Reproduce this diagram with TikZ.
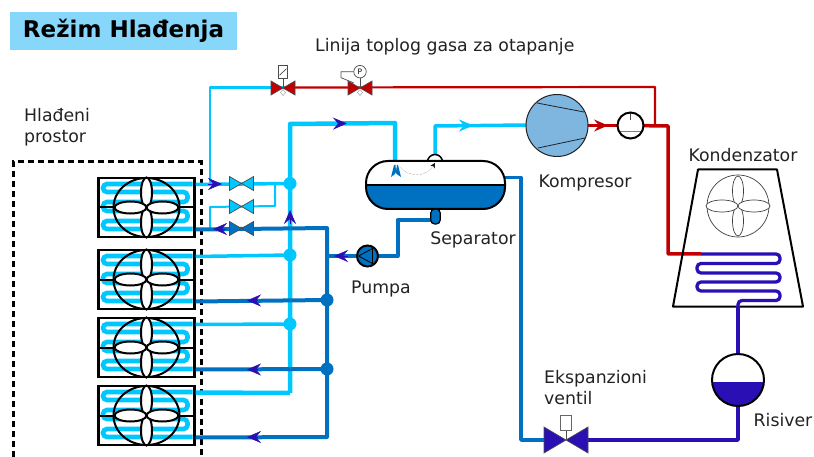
\documentclass[tikz,border=0pt]{standalone}
\usepackage{fontspec}
\setmainfont{DejaVu Sans}
\usetikzlibrary{arrows.meta,decorations.markings}
\definecolor{titlebg}{HTML}{87D7FB}
\definecolor{suct}{HTML}{00C8FF}
\definecolor{liq}{HTML}{0070C0}
\definecolor{cond}{HTML}{2A0FB5}
\definecolor{hot}{HTML}{C00000}
\definecolor{comp}{HTML}{7FB6E0}
\definecolor{ink}{HTML}{222222}
\tikzset{
  lab/.style = {font=\fontsize{17.3}{21}\selectfont,text=ink,inner sep=0pt,align=left},
  tiplab/.style = {fill=titlebg,font=\fontsize{23}{26}\selectfont\bfseries,inner sep=0pt,minimum width=227pt,minimum height=38pt},
  pipes/.style = {suct,line width=4.5pt,line join=round},
  pipem/.style = {suct,line width=3.5pt,line join=round},
  pipet/.style = {suct,line width=2pt,line join=round},
  pliq/.style = {liq,line width=4pt,line join=round},
  pcond/.style = {cond,line width=3.5pt,line join=round},
  phot/.style = {hot,line width=3.5pt,line join=round},
  tip/.style = {-{Stealth[length=14pt,width=12pt,inset=5pt]}},
  flow/.style 2 args = {postaction={decorate},decoration={markings,
    mark=at position #1 with {\arrow[#2]{Stealth[length=14pt,width=12pt,inset=5pt]}}}},
  junction/.style = {circle,inner sep=0pt,minimum size=#1},
  unit/.style = {draw,line width=2.2pt,fill=white,minimum width=96pt,minimum height=59pt,inner sep=0pt},
  valve/.style = {draw=black!70,line width=0.7pt},
  fanline/.style = {black,line width=2pt},
  act/.style = {black!70,line width=0.7pt}
}
% bow-tie valve: name, x, y, half width, half height, fill
\newcommand{\valve}[6]{
  \coordinate (#1) at (#2,#3);
  \filldraw[valve,fill=#6] (#1) ++(-#4,-#5) -- ++({2*#4},{2*#5}) -- ++(0,{-2*#5}) -- ++({-2*#4},{2*#5}) -- cycle;
}
% rotor: centre, outer radii
\newcommand{\rotor}[3]{
  \draw (#1) ellipse [x radius=#2,y radius=#3];
  \filldraw[fill=white] (#1) ++(0,-15) ellipse [x radius=5.5,y radius=15];
  \filldraw[fill=white] (#1) ++(0,15) ellipse [x radius=5.5,y radius=15];
  \filldraw[fill=white] (#1) ++(-16,0) ellipse [x radius=16,y radius=6];
  \filldraw[fill=white] (#1) ++(16,0) ellipse [x radius=16,y radius=6];
}

\begin{document}
\begin{tikzpicture}[x=1pt,y=-1pt]
\useasboundingbox (0,0) rectangle (814,457);

\node[tiplab] (title) at (123.5,31) {Režim Hlađenja};
\node[lab,anchor=west] (cold) at (24,127) {Hlađeni\\prostor};
\node[lab,anchor=west] (line) at (315,47) {Linija toplog gasa za otapanje};
\node[lab] (kond) at (743,155) {Kondenzator};
\node[lab] (komp) at (585,183) {Kompresor};
\node[lab] (sepl) at (473,240) {Separator};
\node[lab] (pum) at (381,289) {Pumpa};
\node[lab,anchor=west] (eksp) at (544,387.5) {Ekspanzioni\\ventil};
\node[lab] (ris) at (783,420) {Risiver};

% cold room
\draw[black,line width=3pt,dash pattern=on 6pt off 4pt] (13,457) -- (13,162) -- (201,162) -- (201,457);

% evaporators
\foreach \i/\yc in {1/207.5,2/279.5,3/347.5,4/415.5}{
  \node[unit] (e\i) at (146.5,\yc) {};
  \coordinate (o\i) at ([yshift=23pt]e\i.east);
  \coordinate (n\i) at ([yshift=-22pt]e\i.east);
  \begin{scope}[shift={(146.5,\yc)}]
    \draw[suct,line width=4.6pt,rounded corners=4pt] (46,-23.5) -- (-43.5,-23.5) -- (-43.5,-15.5) -- (41,-15.5) -- (41,-5.5)
      -- (-43.5,-5.5) -- (-43.5,3.5) -- (41,3.5) -- (41,13.5) -- (-43.5,13.5) -- (-43.5,21.5) -- (46,21.5);
    \draw[fanline] (e\i.west) -- (e\i.east);
    \coordinate (c\i) at (0,0);
    \begin{scope}[fanline]
      \rotor{c\i}{33}{29.5}
    \end{scope}
  \end{scope}
}

% hot gas
\coordinate (hs) at (283,87.5);
\coordinate (hc) at (655,87);
\draw[suct,line width=2.5pt,line join=round] (o1 -| 210,0) -- (210,87.5) -- (hs);
\draw[hot,line width=2.2pt,line join=round] (hs) -- (hc) -- (655,127);

% suction side
\coordinate (sj) at (290,183.5);
\draw[pipes,flow={326pt}{cond}] (290,393) -- (sj) -- (290,124) -- (395,123) -- (395,162);
\draw[pipes] (290,393) -- (o4);
\draw[pipem] (o1) -- (sj);
\draw[pipem] (o2) -- (290,255);
\draw[pipem] (o3) -- (290,324);
\draw[pipet] (n1 -| 210,0) -- (210,207) -- (275,206) -- (275,184);
\node[junction=13pt,fill=suct] (j1) at (sj) {};
\node[junction=13pt,fill=suct] (j2) at (290,255) {};
\node[junction=13pt,fill=suct] (j3) at (290,324) {};

% liquid side
\coordinate (lt) at (327,228);
\coordinate (lb) at (327,437);
\draw[pliq] (n1) -- (lt) -- (lb) -- (n4);
\draw[pliq] (n2) -- (327,300);
\draw[pliq] (n3) -- (327,369);
\node[junction=13pt,fill=liq] (j4) at (327,300) {};
\node[junction=13pt,fill=liq] (j5) at (327,369) {};
\draw[cond,tip] (258,300.5) -- (247,300.5);
\draw[cond,tip] (258,369.5) -- (247,369.5);
\draw[cond,tip] (258,437) -- (247,437);
\draw[cond,tip] (226,229) -- (213,229);
\draw[cond,tip] (290,224) -- (290,210);
\draw[cond,tip] (208,184) -- (222,184);

% valves
\valve{v1}{241.5}{183.5}{12}{7}{suct}
\valve{v2}{241.5}{206.5}{12}{7}{suct}
\valve{v3}{241.5}{228.5}{12}{7}{liq}
\valve{v4}{283}{88}{12}{7}{hot}
\valve{v5}{360}{88}{12}{7}{hot}
\foreach \v in {v4,v5}
  \filldraw[fill=white,draw=black!40,line width=0.4pt] (\v) ++(0,1.5) -- ++(2.5,3) -- ++(-2.5,3) -- ++(-2.5,-3) -- cycle;

% actuators
\node[draw=black!70,fill=white,line width=0.7pt,minimum width=9pt,minimum height=12.5pt,inner sep=0pt,
  path picture={\draw[black!70] ([shift={(1pt,3pt)}]path picture bounding box.south west) -- ([shift={(-1pt,-3pt)}]path picture bounding box.north east);}] (sol1) at (283,72) {};
\draw[act] (sol1) ++(0,6) -- (v4);
\node[draw=black!70,fill=white,circle,line width=0.7pt,minimum size=12.5pt,inner sep=0pt,font=\fontsize{7.5}{8}\selectfont] (pil) at (360,71.7) {P};
\draw[act] (pil) ++(0,6) -- (v5);
\draw[act] (pil.west) -- (341,71.7) -- (341,77.7) -- (354,83);

% separator connections
\draw[pliq] (327,256) -- (358,256);
\draw[cond,tip] (348,256) -- (334,256);
\draw[pliq] (376,256) -- (397.5,256) -- (397.5,220) -- (432,220);
\draw[liq,line width=3.5pt,line join=round] (500,177.5) -- (521,177.5) -- (521,440) -- (545,440);
\node[draw=black,line width=1.2pt,fill=liq,rounded corners=4pt,minimum width=9.5pt,minimum height=15pt,inner sep=0pt] (stem) at (435.5,216.5) {};

% separator
\draw[pipem] (435,158) -- (435,126) -- (526,125);
\draw[suct,tip] (460,125.5) -- (473,125.5);
\node[draw=black,line width=1.5pt,fill=white,circle,minimum size=15pt,inner sep=0pt] (dome) at (435,162) {};
\node[draw=black,line width=2pt,fill=white,rounded corners=22pt,minimum width=139pt,minimum height=48pt,inner sep=0pt,
  path picture={\fill[liq,sharp corners] (path picture bounding box.west) ++(0,-1pt) rectangle (path picture bounding box.south east);
    \draw[black,line width=2pt,sharp corners] (path picture bounding box.west) -- (path picture bounding box.east);}] (sep) at (435.5,185) {};
\fill[liq] (391,177) -- (394,165) -- (395.5,165) -- (396,171) -- (397,165) -- (398,165) -- (401,177) -- (396.5,174) -- (395.5,172) -- (395,174) -- cycle;
\draw[black!60,densely dotted,-{Stealth[length=5pt,width=5pt,black]}] (400,167) .. controls (408,177) and (426,178) .. (435,163);

% pump
\node[draw=black,line width=2pt,fill=liq,circle,minimum size=21pt,inner sep=0pt] (pump) at (367.5,256) {};
\filldraw[fill=liq,draw=black,line width=0.8pt] (358.5,256) -- (372.5,248.5) -- (372.5,263.5) -- cycle;

% compressor and discharge
\coordinate (cc) at (557,125.5);
\coordinate (gc) at (630.5,125.5);
\draw[phot,flow={51pt}{hot}] (cc) -- (gc);
\draw[phot] (gc) -- (668,126) -- (668,254) -- (701,254);
\node[draw=ink,line width=1pt,fill=comp,circle,minimum size=62pt,inner sep=0pt] (cmp) at (cc) {};
\draw[ink,line width=0.8pt] (537,103) -- (584,112) (538,148) -- (585,138);
\node[draw=black,line width=2pt,fill=white,circle,minimum size=26pt,inner sep=0pt,
  path picture={\draw[black!50,line width=0.8pt] ([yshift=-6pt]path picture bounding box.west) -- ([yshift=-6pt]path picture bounding box.east);
    \draw[black!70,line width=0.8pt] (path picture bounding box.north) -- ++(0,-8pt);}] (gauge) at (gc) {};

% condenser
\draw[black,line width=2pt,line join=round] (698,169.5) -- (777,169.5) -- (803,306.5) -- (673,306.5) -- cycle;
\coordinate (cf) at (738,206);
\begin{scope}[black!75,line width=0.7pt]
  \rotor{cf}{31}{31}
\end{scope}
\draw[cond,line width=3.3pt,rounded corners=4pt] (701,254) -- (780,254) -- (780,263.5) -- (697,263.5) -- (697,273) -- (780,273)
  -- (780,282) -- (697,282) -- (697,291) -- (780,291) -- (780,300.5) -- (738,300.5) -- (738,306);

% receiver and expansion
\coordinate (rc) at (738,380);
\draw[pcond] (738,306) -- (rc);
\draw[pcond] (rc) -- (738,440) -- (588,440);
\node[draw=black,line width=2pt,fill=white,circle,minimum size=52pt,inner sep=0pt,
  path picture={\fill[cond] (path picture bounding box.west) ++(0,-2pt) rectangle (path picture bounding box.south east);}] (rec) at (rc) {};
\valve{v6}{566}{440}{22}{13}{cond}
\node[draw=black!60,fill=white,line width=0.7pt,minimum width=11pt,minimum height=15pt,inner sep=0pt] (sol2) at (566,423) {};
\draw[act] (sol2.south) -- (v6);
\end{tikzpicture}
\end{document}
